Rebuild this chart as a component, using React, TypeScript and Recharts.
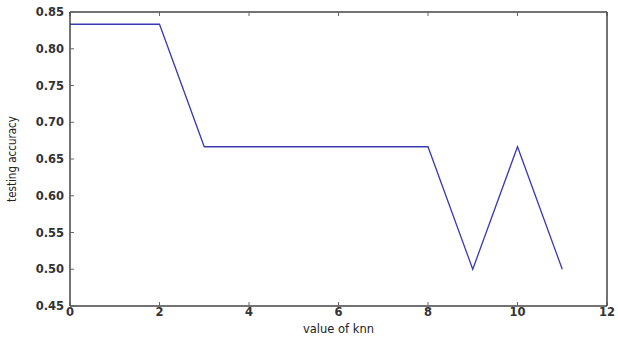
import React from 'react';
import { LineChart, Line, XAxis, YAxis } from 'recharts';

const kValues = [0, 1, 2, 3, 4, 5, 6, 7, 8, 9, 10, 11];
const accuracy = [0.8333, 0.8333, 0.8333, 0.6667, 0.6667, 0.6667, 0.6667, 0.6667, 0.6667, 0.5, 0.6667, 0.5];
const xTicks = [0, 2, 4, 6, 8, 10, 12];
const yTicks = [0.45, 0.5, 0.55, 0.6, 0.65, 0.7, 0.75, 0.8, 0.85];

const data = kValues.map((k, i) => ({ k, acc: accuracy[i] }));

const tickFont = { fontFamily: 'DejaVu Sans', fontSize: 11.5, fill: '#333', fontWeight: 600 };

export default function App() {
  return (
    <div style={{ position: 'absolute', left: 0, top: 0, width: 618, height: 338, background: '#fff' }}>
      <LineChart width={618} height={338} data={data} margin={{ top: 11, right: 10, bottom: 0, left: 0 }}>
        <XAxis
          xAxisId="b"
          dataKey="k"
          type="number"
          domain={[0, 12]}
          ticks={xTicks}
          height={32}
          tickSize={-4}
          tickMargin={6}
          axisLine={{ stroke: '#444', strokeWidth: 1.5 }}
          tickLine={{ stroke: '#666' }}
          tick={tickFont}
          label={{ value: 'value of knn', position: 'insideBottom', offset: 5, style: { fontFamily: 'DejaVu Sans', fontSize: 11.5, fill: '#222' } }}
        />
        <XAxis
          xAxisId="t"
          dataKey="k"
          type="number"
          orientation="top"
          domain={[0, 12]}
          ticks={xTicks}
          height={1}
          tickSize={-4}
          tickFormatter={() => ''}
          axisLine={{ stroke: '#444', strokeWidth: 1.5 }}
          tickLine={{ stroke: '#666' }}
        />
        <YAxis
          yAxisId="l"
          type="number"
          domain={[0.45, 0.85]}
          ticks={yTicks}
          width={70}
          tickSize={-4}
          tickMargin={10}
          interval={0}
          tickFormatter={(v: number) => v.toFixed(2)}
          axisLine={{ stroke: '#444', strokeWidth: 1.5 }}
          tickLine={{ stroke: '#666' }}
          tick={tickFont}
          label={{ value: 'testing accuracy', angle: -90, position: 'insideLeft', offset: 12, style: { textAnchor: 'middle', fontFamily: 'Liberation Sans Narrow, DejaVu Sans Condensed, sans-serif', fontSize: 11.5, fill: '#222' } }}
        />
        <YAxis
          yAxisId="r"
          type="number"
          orientation="right"
          domain={[0.45, 0.85]}
          ticks={yTicks}
          width={1}
          tickSize={-4}
          interval={0}
          tickFormatter={() => ''}
          axisLine={{ stroke: '#444', strokeWidth: 1.5 }}
          tickLine={{ stroke: '#666' }}
        />
        <Line
          xAxisId="b"
          yAxisId="l"
          type="linear"
          dataKey="acc"
          stroke="#3a3ab4"
          strokeWidth={1.3}
          dot={false}
          isAnimationActive={false}
        />
      </LineChart>
    </div>
  );
}
